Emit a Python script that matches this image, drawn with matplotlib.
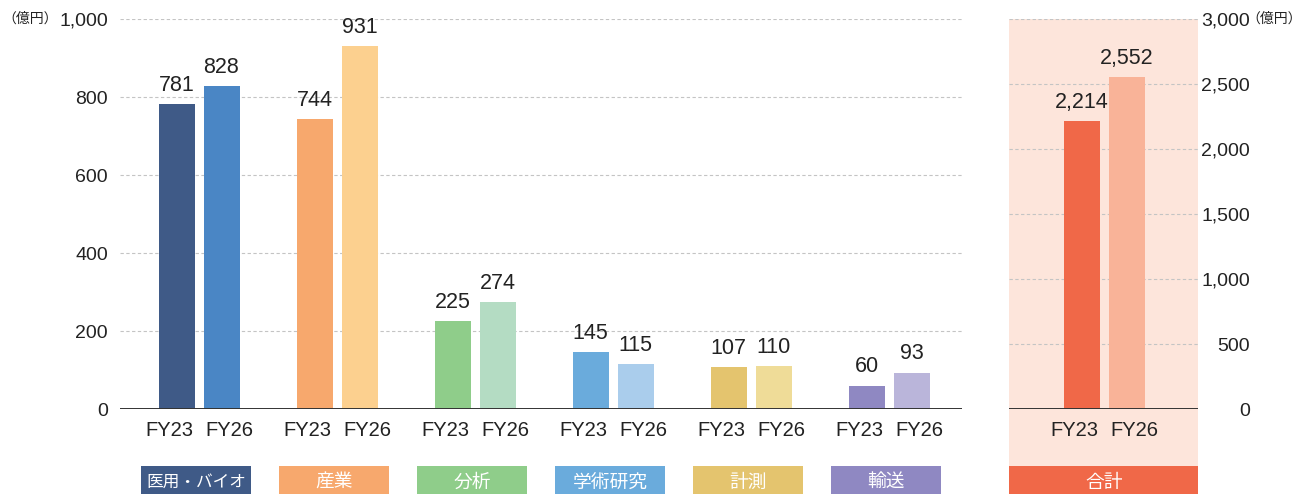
import matplotlib
matplotlib.use("Agg")
import matplotlib.pyplot as plt
from matplotlib.patches import Rectangle
from matplotlib.transforms import blended_transform_factory
from matplotlib.ticker import FuncFormatter

plt.rcParams['font.family'] = ['Liberation Sans', 'Noto Sans CJK JP', 'DejaVu Sans']

# ---------------- data ----------------
categories = ["医用・バイオ", "産業", "分析", "学術研究", "計測", "輸送"]
fy23 = [781, 744, 225, 145, 107, 60]
fy26 = [828, 931, 274, 115, 110, 93]
years = ["FY23", "FY26"]
total_label = "合計"
total_values = [2214, 2552]
left_ticks = [0, 200, 400, 600, 800, 1000]
right_ticks = [0, 500, 1000, 1500, 2000, 2500, 3000]
unit = "（億円）"

c23 = ["#3f5a87", "#f7a86d", "#8fcd8a", "#6aabdc", "#e4c46e", "#8f88c2"]
c26 = ["#4a86c5", "#fcd08f", "#b4dcc3", "#aacdec", "#efdc98", "#bab5da"]
box_colors = ["#3f5a87", "#f7a86d", "#8fcd8a", "#6aabdc", "#e4c46e", "#8f88c2"]
total_colors = ["#f06848", "#f9b398"]
pink = "#fde5db"

W, H = 1303, 494
fig = plt.figure(figsize=(W / 100, H / 100), dpi=100)

def fx(px):
    return px / W

def fy(py):
    return (H - py) / H

y0, y1 = 409, 19
unit_px = 138.0
bw = 36 / unit_px
off = 22.5 / unit_px
loff = 30 / unit_px
grid_kw = dict(color="#c4c4c4", linewidth=0.8, linestyle=(0, (3, 2.2)))
txt_color = "#222222"

# pink background for total panel + total label box
fig.patches.append(Rectangle((fx(1009), fy(466)), fx(1198) - fx(1009), fy(19) - fy(466),
                             transform=fig.transFigure, facecolor=pink, edgecolor="none", zorder=-2))
fig.patches.append(Rectangle((fx(1009), -0.05), fx(1198) - fx(1009), fy(466) + 0.05,
                             transform=fig.transFigure, facecolor=total_colors[0], edgecolor="none",
                             zorder=-2))

# ---------------- left axes ----------------
axL = fig.add_axes([fx(120), fy(y0), fx(962) - fx(120), fy(y1) - fy(y0)])
axL.patch.set_alpha(0)
x = list(range(len(categories)))
axL.set_xlim((120 - 199) / unit_px, (962 - 199) / unit_px)
axL.set_ylim(0, 1000)
for yv in left_ticks[1:]:
    axL.axhline(yv, zorder=0, **grid_kw)
axL.axhline(0, color="#333333", linewidth=1.4, zorder=3)
b1 = axL.bar([i - off for i in x], fy23, width=bw, color=c23, zorder=2)
b2 = axL.bar([i + off for i in x], fy26, width=bw, color=c26, zorder=2)
for bars, vals in ((b1, fy23), (b2, fy26)):
    for rect, v in zip(bars, vals):
        axL.annotate(f"{v:,}", (rect.get_x() + rect.get_width() / 2, v), xytext=(0, 6),
                     textcoords="offset points", ha="center", va="bottom",
                     fontsize=15.5, color=txt_color)
axL.set_yticks(left_ticks)
axL.yaxis.set_major_formatter(FuncFormatter(lambda v, p: f"{int(v):,}"))
axL.tick_params(axis="y", length=0, pad=8.6, labelsize=14, labelcolor=txt_color)
axL.set_xticks([])
for s in axL.spines.values():
    s.set_visible(False)

trL = blended_transform_factory(axL.transData, fig.transFigure)
for i in x:
    for j, xx in enumerate((i - loff, i + loff)):
        axL.text(xx, fy(430), years[j], transform=trL, ha="center", va="center",
                 fontsize=14.5, color=txt_color)
    axL.add_patch(Rectangle((i - 0.02 - 110 / unit_px / 2, -0.05), 110 / unit_px, fy(466) + 0.05,
                            transform=trL, facecolor=box_colors[i], edgecolor="none", clip_on=False))
    axL.text(i - 0.02, fy(482), categories[i], transform=trL, ha="center", va="center",
             fontsize=12 if len(categories[i]) > 4 else 13.5, color="white",
             family="Noto Sans CJK JP", clip_on=False)

fig.text(fx(2), fy(19), unit, ha="left", va="center", fontsize=10, color=txt_color,
         family="Noto Sans CJK JP")

# ---------------- right axes ----------------
axR = fig.add_axes([fx(1009), fy(y0), fx(1198) - fx(1009), fy(y1) - fy(y0)])
axR.patch.set_alpha(0)
axR.set_xlim((1009 - 1104) / unit_px, (1198 - 1104) / unit_px)
axR.set_ylim(0, 3000)
for yv in right_ticks[1:]:
    axR.axhline(yv, zorder=0, **grid_kw)
axR.axhline(0, color="#333333", linewidth=1.4, zorder=3)
bt = axR.bar([-off, off], total_values, width=bw, color=total_colors, zorder=2)
for rect, v in zip(bt, total_values):
    axR.annotate(f"{v:,}", (rect.get_x() + rect.get_width() / 2, v), xytext=(0, 6),
                 textcoords="offset points", ha="center", va="bottom",
                 fontsize=15.5, color=txt_color)
axR.yaxis.tick_right()
axR.set_yticks(right_ticks)
axR.yaxis.set_major_formatter(FuncFormatter(lambda v, p: f"{int(v):,}"))
axR.tick_params(axis="y", length=0, pad=37.4, labelsize=14, labelcolor=txt_color)
for lab in axR.get_yticklabels():
    lab.set_horizontalalignment("right")
axR.set_xticks([])
for s in axR.spines.values():
    s.set_visible(False)
trR = blended_transform_factory(axR.transData, fig.transFigure)
for j, xx in enumerate((-loff, loff)):
    axR.text(xx, fy(430), years[j], transform=trR, ha="center", va="center",
             fontsize=14.5, color=txt_color)
axR.text(0, fy(482), total_label, transform=trR, ha="center", va="center", fontsize=13.5,
         color="white", family="Noto Sans CJK JP", clip_on=False)
fig.text(fx(1246), fy(19), unit, ha="left", va="center", fontsize=10, color=txt_color,
         family="Noto Sans CJK JP")

fig.savefig("out.png", dpi=100)
